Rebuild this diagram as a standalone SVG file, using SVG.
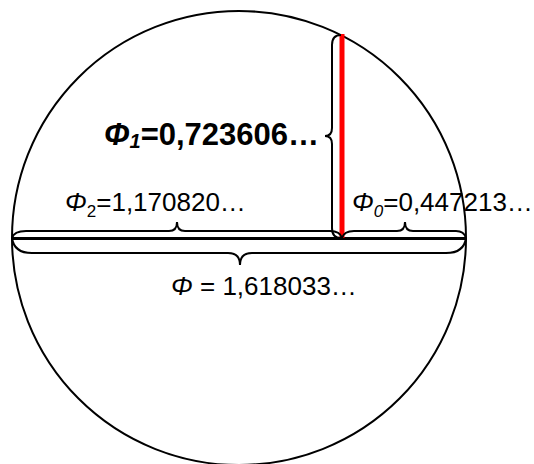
<svg xmlns="http://www.w3.org/2000/svg" width="534" height="464" viewBox="0 0 534 464">
<style>
.ln{fill:none;stroke:#000;stroke-width:2}
.t{font-family:"Liberation Sans",Arial,sans-serif;fill:#000}
.i{font-style:italic}
</style>
<rect width="534" height="464" fill="#fff"/>
<g id="circle"><circle cx="239" cy="238" r="227" class="ln" stroke-width="1.8"/></g>
<g id="connectors">
<line id="diameter" x1="12" y1="238.5" x2="466" y2="238.5" stroke="#000" stroke-width="3"/>
<line id="red" x1="342" y1="34" x2="342" y2="238" stroke="#ff0000" stroke-width="5"/>
<path id="brace-v" class="ln" d="M341 35 Q332 35 332 45 L332 128 Q332 136 325 136 Q332 136 332 144 L332 228 Q332 238 341 238"/>
<path id="brace-2" class="ln" d="M12 238 Q14 231 26 231 L169 231 Q177 231 177 222 Q177 231 185 231 L330 231 Q340 231 342 238"/>
<path id="brace-0" class="ln" d="M342 238 Q344 231 354 231 L397 231 Q405 231 405 222 Q405 231 413 231 L456 231 Q464 231 466 238"/>
<path id="brace-all" class="ln" d="M12 238 Q14 253 32 253 L228 253 Q240 253 240 265 Q240 253 252 253 L446 253 Q464 253 466 238"/>
</g>
<g id="label-phi1"><text class="t" x="104" y="145" font-size="31" font-weight="bold"><tspan class="i">Φ</tspan><tspan class="i" font-size="20" dy="3">1</tspan><tspan dy="-3">=0,723606…</tspan></text></g>
<g id="label-phi2"><text class="t" x="65" y="211" font-size="26"><tspan class="i">Φ</tspan><tspan font-size="17" dy="6">2</tspan><tspan dy="-6">=1,170820…</tspan></text></g>
<g id="label-phi0"><text class="t" x="352" y="211" font-size="26"><tspan class="i">Φ</tspan><tspan class="i" font-size="17" dy="6">0</tspan><tspan dy="-6">=0,447213…</tspan></text></g>
<g id="label-phi"><text class="t" x="171" y="295" font-size="26"><tspan class="i">Φ</tspan> = 1,618033…</text></g>
</svg>
